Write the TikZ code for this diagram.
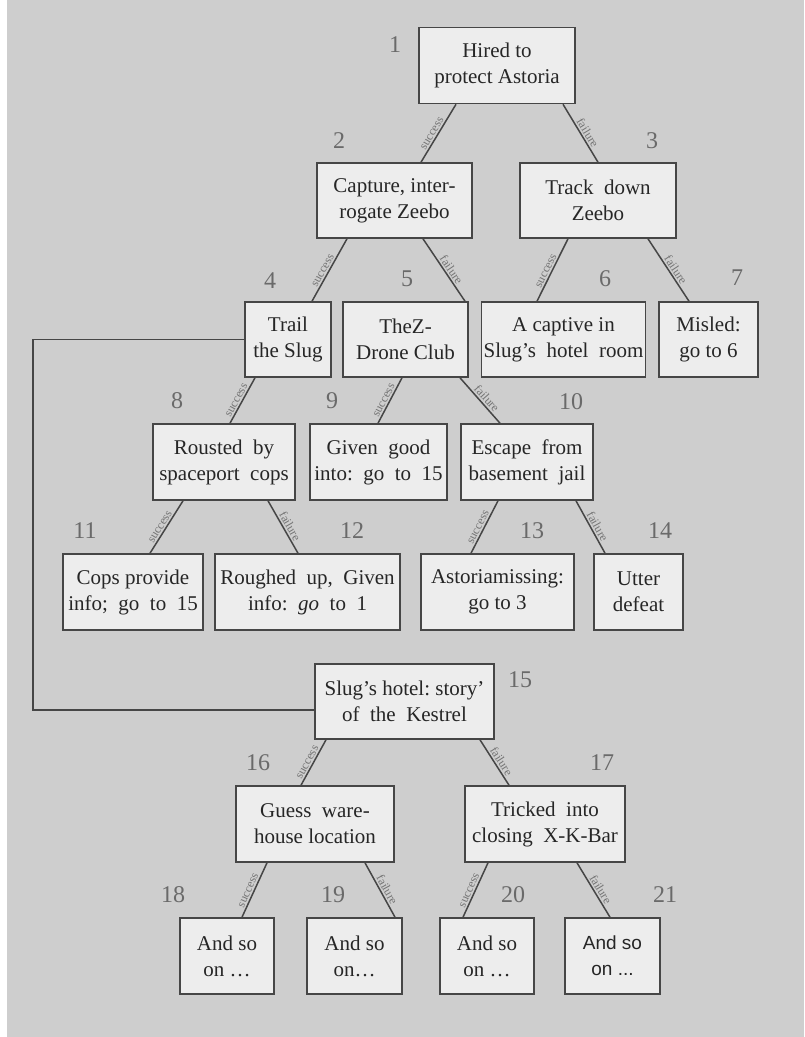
\documentclass[tikz,border=0pt]{standalone}
\usepackage{fontspec}
\setmainfont{Liberation Serif}
\newfontfamily\arialfont{Liberation Sans}
\usepackage{xcolor}
\usetikzlibrary{positioning}

\definecolor{paper}{HTML}{CECECE}
\definecolor{boxfill}{HTML}{EDEDED}
\definecolor{ink}{HTML}{464646}
\definecolor{numgray}{HTML}{6A6A6A}

\begin{document}
\begin{tikzpicture}[x=1pt, y=-1pt, every node/.style={font=\fontsize{21}{26}\selectfont},
    plot/.style={rectangle, draw=ink, line width=1.6pt, fill=boxfill, align=center, minimum height=76pt, inner sep=2pt, text=black!85},
    num/.style={text=numgray, font=\fontsize{24}{24}\selectfont},
    branch/.style={draw=ink, line width=1.5pt},
    outcome/.style={sloped, above, pos=.55, inner sep=1.5pt, text=black!55, font=\fontsize{12}{12}\selectfont}]
    \useasboundingbox (0,0) rectangle (804,1037);
    \fill[white] (0,0) rectangle (804,1037);
    \fill[paper] (7,0) rectangle (804,1037);

    \node[plot, minimum width=156pt] (hired) at (497,65.5) {Hired to\\protect Astoria};
    \node[plot, minimum width=155pt, minimum height=75pt] (capture) at (394.5,200.5) {Capture, inter-\\rogate Zeebo};
    \node[plot, minimum width=156pt, minimum height=75pt] (track) at (598,200.5) {Track\ \ down\\Zeebo};
    \node[plot, minimum width=86pt, minimum height=75pt] (trail) at (288,339.5) {Trail\\the Slug};
    \node[plot, minimum width=125pt, minimum height=75pt] (club) at (405.5,339.5) {TheZ-\\Drone Club};
    \node[plot, minimum width=163pt, minimum height=75pt] (captive) at (563.5,339.5) {A captive in\\Slug's\ \ hotel\ \ room};
    \node[plot, minimum width=99pt, minimum height=75pt] (misled) at (708.5,339.5) {Misled:\\go to 6};
    \node[plot, minimum width=142pt] (rousted) at (224,462) {Rousted\ \ by\\spaceport\ \ cops};
    \node[plot, minimum width=137pt] (goodinfo) at (378.5,462) {Given\ \ good\\into:\ \ go\ \ to\ \ 15};
    \node[plot, minimum width=132pt] (escape) at (527,462) {Escape\ \ from\\basement\ \ jail};
    \node[plot, minimum width=140pt] (copsinfo) at (133,592) {Cops provide\\info;\ \ go\ \ to\ \ 15};
    \node[plot, minimum width=185pt] (roughed) at (307.5,592) {Roughed\ \ up,\ \ Given\\info:\ \ \textit{go}\ \ to\ \ 1};
    \node[plot, minimum width=153pt] (missing) at (497.5,592) {Astoriamissing:\\go to 3};
    \node[plot, minimum width=89pt] (defeat) at (638.5,592) {Utter\\defeat};
    \node[plot, minimum width=179pt, minimum height=75pt] (hotel) at (404.5,701.5) {Slug's\ hotel:\ story'\\of\ \ the\ \ Kestrel};
    \node[plot, minimum width=158pt] (guess) at (315,824) {Guess\ \ ware-\\house location};
    \node[plot, minimum width=160pt] (tricked) at (545,824) {Tricked\ \ into\\closing\ \ X-K-Bar};
    \node[plot, minimum width=94pt] (soon18) at (227,956) {And so\\on \ldots};
    \node[plot, minimum width=95pt] (soon19) at (354.5,956) {And so\\on\ldots};
    \node[plot, minimum width=94pt] (soon20) at (487,956) {And so\\on \ldots};
    \node[plot, minimum width=95pt, font=\arialfont\fontsize{19}{26}\selectfont] (soon21) at (612.5,956) {And so\\on ...};

    \foreach \k/\x/\y in {1/395/45, 2/339/141, 3/652/141, 4/270/281, 5/407/279, 6/605/279, 7/737/278,
        8/177/401, 9/332/401, 10/571/402, 11/85/531, 12/352/531, 13/532/531, 14/660/531,
        15/520/680, 16/258/763, 17/602/763, 18/173/895, 19/333/895, 20/513/895, 21/665/895}
        \node[num] (num\k) at (\x,\y) {\k};

    \draw[branch] ([xshift=-41pt]hired.south) -- node[outcome] {success} ([xshift=26.5pt]capture.north);
    \draw[branch] ([xshift=66pt]hired.south) -- node[outcome] {failure} (track.north);
    \draw[branch] ([xshift=-47.5pt]capture.south) -- node[outcome] {success} ([xshift=24pt]trail.north);
    \draw[branch] ([xshift=28.5pt]capture.south) -- node[outcome] {failure} ([xshift=59.5pt]club.north);
    \draw[branch] ([xshift=-30pt]track.south) -- node[outcome] {success} ([xshift=-26.5pt]captive.north);
    \draw[branch] ([xshift=50pt]track.south) -- node[outcome] {failure} ([xshift=-19.5pt]misled.north);
    \draw[branch] ([xshift=-33pt]trail.south) -- node[outcome] {success} ([xshift=6pt]rousted.north);
    \draw[branch] ([xshift=-3.5pt]club.south) -- node[outcome] {success} ([xshift=-.5pt]goodinfo.north);
    \draw[branch] ([xshift=54.5pt]club.south) -- node[outcome] {failure} ([xshift=-27pt]escape.north);
    \draw[branch] ([xshift=-41pt]rousted.south) -- node[outcome] {success} ([xshift=17pt]copsinfo.north);
    \draw[branch] ([xshift=44pt]rousted.south) -- node[outcome] {failure} ([xshift=-9.5pt]roughed.north);
    \draw[branch] ([xshift=-29pt]escape.south) -- node[outcome] {success} ([xshift=-26.5pt]missing.north);
    \draw[branch] ([xshift=49pt]escape.south) -- node[outcome] {failure} ([xshift=-33.5pt]defeat.north);
    \draw[branch] ([xshift=-78.5pt]hotel.south) -- node[outcome] {success} ([xshift=-14pt]guess.north);
    \draw[branch] ([xshift=75.5pt]hotel.south) -- node[outcome] {failure} ([xshift=-36pt]tricked.north);
    \draw[branch] ([xshift=-48pt]guess.south) -- node[outcome] {success} ([xshift=15pt]soon18.north);
    \draw[branch] ([xshift=50pt]guess.south) -- node[outcome] {failure} ([xshift=40.5pt]soon19.north);
    \draw[branch] ([xshift=-57pt]tricked.south) -- node[outcome] {success} ([xshift=-24pt]soon20.north);
    \draw[branch] ([xshift=32pt]tricked.south) -- node[outcome] {failure} ([xshift=-2.5pt]soon21.north);

    \coordinate (loopback) at (33,710);
    \draw[branch, line width=1.8pt] (trail.west) -| (loopback) -- ([yshift=-8.5pt]hotel.west);
\end{tikzpicture}
\end{document}
